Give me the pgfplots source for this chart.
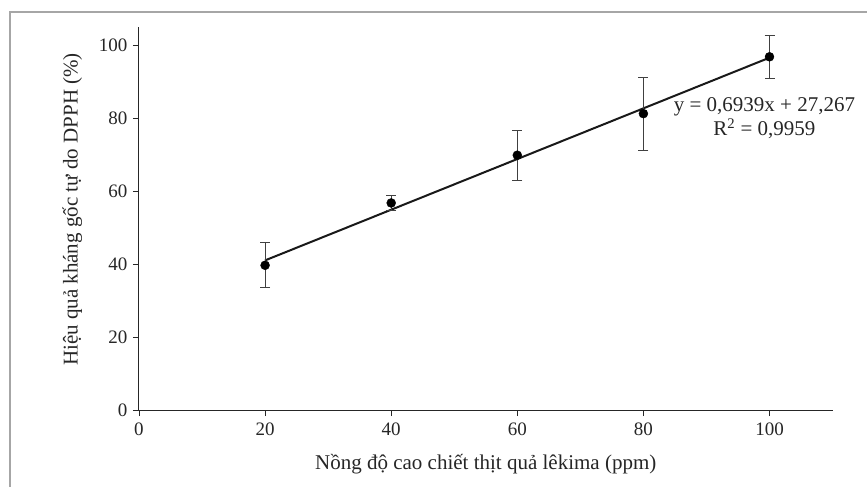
\documentclass[border=0pt]{standalone}
\usepackage{pgfplots}
\pgfplotsset{compat=1.18}
\usepackage{fontspec}
\setmainfont{Liberation Serif}
\begin{document}
\begin{tikzpicture}
\useasboundingbox (-139pt,-77pt) rectangle (728pt,410pt);
\draw[gray!70, line width=1.2pt] (-129pt,-90pt) -- (-129pt,398pt) -- (740pt,398pt);
\begin{axis}[
  at={(0,0)}, anchor=origin,
  x=6.305pt, y=3.645pt,
  xmin=0, xmax=110, ymin=0, ymax=105,
  axis x line=bottom, axis y line=left,
  axis line style={-, line width=1pt, black!85},
  xtick={0,20,...,100}, ytick={0,20,...,100},
  tick align=outside, major tick length=6pt,
  tick style={black!85, line width=0.8pt},
  /pgf/number format/assume math mode=true,
  ticklabel style={font=\fontsize{19}{22}\selectfont, text=black!85},
  xticklabel style={yshift=-3pt},
  yticklabel style={xshift=-2pt},
  xlabel={Nồng độ cao chiết thịt quả lêkima (ppm)},
  ylabel={Hiệu quả kháng gốc tự do DPPH (\%)},
  label style={font=\fontsize{21}{24}\selectfont, text=black!85},
  xlabel style={at={(axis cs:55,-14.8)}, anchor=center},
  ylabel style={at={(axis cs:-10.6,55)}, anchor=center, rotate=0},
  clip=false,
]
\addplot[black!90, line width=2pt] coordinates {(20,41.045) (100,96.657)};
\addplot[only marks, mark=*, mark size=4.5pt, black,
  error bars/.cd, y dir=both, y explicit,
  error bar style={line width=0.8pt, black!75},
  error mark options={rotate=90, mark size=5pt, line width=0.8pt, black!75}]
  coordinates {
  (20,39.7) +- (0,6.2)
  (40,56.8) +- (0,2.0)
  (60,69.9) +- (0,6.9)
  (80,81.3) +- (0,10.0)
  (100,96.9) +- (0,6.0)
};
\node[align=center, font=\fontsize{21}{24}\selectfont, text=black!85, inner sep=0pt]
  at (axis cs:99.2,80.0) {y = 0,6939x + 27,267\\R\textsuperscript{2} = 0,9959};
\end{axis}
\end{tikzpicture}
\end{document}
